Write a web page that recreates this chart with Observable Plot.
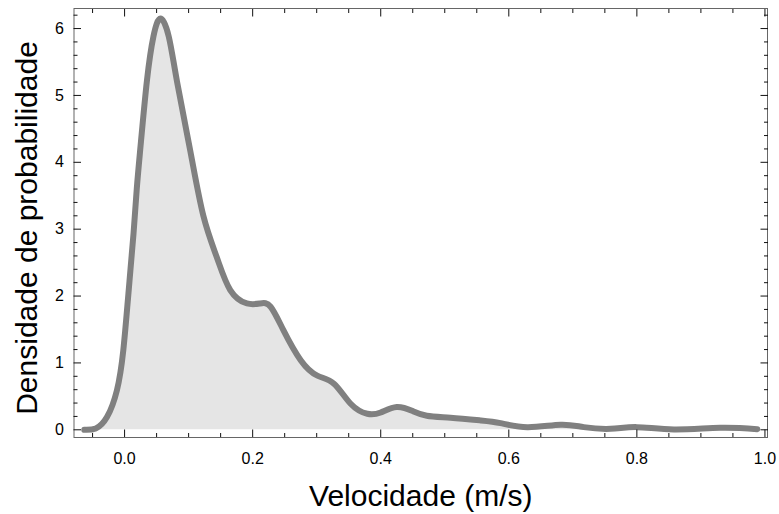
<!DOCTYPE html>
<html><head><meta charset="utf-8">
<script src="https://cdn.jsdelivr.net/npm/d3@7"></script>
<script src="https://cdn.jsdelivr.net/npm/@observablehq/plot@0.6"></script>
<style>
body{margin:0;background:#fff;}
</style>
</head><body><div id="chart"></div>
<script>
const velocity = [-0.063, -0.045, -0.0275, -0.012, -0.002, 0.006, 0.014, 0.019, 0.025, 0.035, 0.045, 0.056, 0.069, 0.082, 0.103, 0.123, 0.144, 0.165, 0.191, 0.212, 0.228, 0.248, 0.275, 0.301, 0.327, 0.353, 0.379, 0.40, 0.425, 0.45, 0.472, 0.509, 0.556, 0.587, 0.629, 0.681, 0.717, 0.759, 0.80, 0.858, 0.93, 0.988];
const density  = [0, 0.02, 0.19, 0.59, 1.19, 2.04, 2.94, 3.6, 4.25, 5.23, 5.88, 6.15, 5.88, 5.2, 4.15, 3.2, 2.58, 2.09, 1.89, 1.89, 1.84, 1.49, 1.04, 0.81, 0.69, 0.39, 0.24, 0.26, 0.34, 0.28, 0.21, 0.18, 0.14, 0.10, 0.04, 0.075, 0.04, 0.015, 0.04, 0.005, 0.03, 0.01];
const xMajorTicks = [0, 0.2, 0.4, 0.6, 0.8, 1.0];
const xMinorTicks = [-0.05, 0.05, 0.1, 0.15, 0.25, 0.3, 0.35, 0.45, 0.5, 0.55, 0.65, 0.7, 0.75, 0.85, 0.9, 0.95];
const yMajorTicks = [0, 1, 2, 3, 4, 5, 6];
const yMinorTicks = [0.2, 0.4, 0.6, 0.8, 1.2, 1.4, 1.6, 1.8, 2.2, 2.4, 2.6, 2.8, 3.2, 3.4, 3.6, 3.8, 4.2, 4.4, 4.6, 4.8, 5.2, 5.4, 5.6, 5.8, 6.2];
const xLabel = "Velocidade (m/s)";
const yLabel = "Densidade de probabilidade";

const data = velocity.map((v, i) => ({v, d: density[i]}));
const fmt = d3.format(".1f");
const tickColor = "#111";
const MAJ = 7.5, MIN = 4;

const plot = Plot.plot({
  width: 779, height: 514,
  marginLeft: 73.5, marginRight: 12, marginTop: 8, marginBottom: 77,
  style: {fontFamily: "'Liberation Sans', Arial, sans-serif", fontSize: "16px", color: "#000", background: "#fff", overflow: "visible"},
  x: {domain: [-0.079, 1.004]},
  y: {domain: [-0.115, 6.30]},
  marks: [
    Plot.areaY(data, {x: "v", y: "d", fill: "#e5e5e5", curve: "natural"}),
    Plot.lineY(data, {x: "v", y: "d", stroke: "#808080", strokeWidth: 6, curve: "natural"}),
    Plot.frame({stroke: "#666"}),
    Plot.axisX(xMajorTicks, {anchor: "bottom", tickSize: MAJ, dy: -MAJ, fill: "none", stroke: tickColor, label: null}),
    Plot.axisX(xMinorTicks, {anchor: "bottom", tickSize: MIN, dy: -MIN, fill: "none", stroke: tickColor, label: null}),
    Plot.axisX(xMajorTicks, {anchor: "top", tickSize: MAJ, dy: MAJ, fill: "none", stroke: tickColor, label: null}),
    Plot.axisX(xMinorTicks, {anchor: "top", tickSize: MIN, dy: MIN, fill: "none", stroke: tickColor, label: null}),
    Plot.axisY(yMajorTicks, {anchor: "left", tickSize: MAJ, dx: MAJ, fill: "none", stroke: tickColor, label: null}),
    Plot.axisY(yMinorTicks, {anchor: "left", tickSize: MIN, dx: MIN, fill: "none", stroke: tickColor, label: null}),
    Plot.axisY(yMajorTicks, {anchor: "right", tickSize: MAJ, dx: -MAJ, fill: "none", stroke: tickColor, label: null}),
    Plot.axisY(yMinorTicks, {anchor: "right", tickSize: MIN, dx: -MIN, fill: "none", stroke: tickColor, label: null}),
    Plot.axisX(xMajorTicks, {anchor: "bottom", tickSize: 0, tickPadding: 15, tickFormat: fmt, label: null, fill: "#000"}),
    Plot.axisY(yMajorTicks, {anchor: "left", tickSize: 0, tickPadding: 10, tickFormat: d => String(d), label: null, fill: "#000"}),
    Plot.text([xLabel], {frameAnchor: "bottom", lineAnchor: "middle", dy: 59, fontSize: 30, fill: "#000"}),
    Plot.text([yLabel], {frameAnchor: "left", textAnchor: "middle", lineAnchor: "middle", rotate: -90, dx: -47, dy: 5, fontSize: 30, fill: "#000"})
  ]
});
document.getElementById("chart").appendChild(plot);
</script>
</body></html>
